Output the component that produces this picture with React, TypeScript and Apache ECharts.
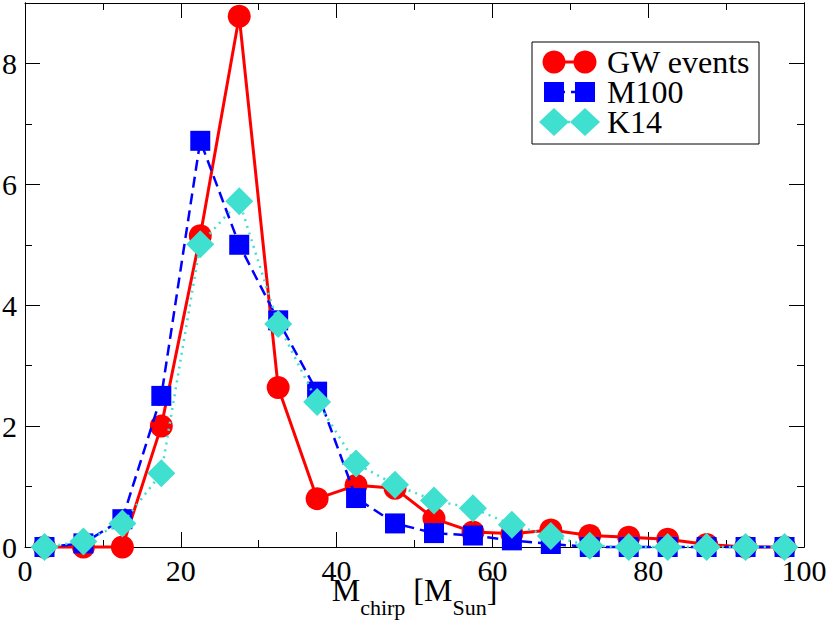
import React, { useEffect, useRef } from "react";
import * as echarts from "echarts";

const FONT = "Liberation Serif, serif";

const binCenters = [2.5, 7.5, 12.5, 17.5, 22.5, 27.5, 32.5, 37.5, 42.5, 47.5, 52.5, 57.5, 62.5, 67.5, 72.5, 77.5, 82.5, 87.5, 92.5, 97.5];
const gwEvents = [0, 0, 0, 2.0, 5.15, 8.78, 2.64, 0.8, 1.02, 0.97, 0.47, 0.25, 0.22, 0.28, 0.19, 0.16, 0.13, 0.04, 0, 0];
const m100 = [0, 0.06, 0.46, 2.5, 6.72, 5.0, 3.75, 2.57, 0.81, 0.39, 0.23, 0.19, 0.11, 0.05, 0, 0, 0, 0, 0, 0];
const k14 = [0, 0.09, 0.39, 1.22, 5.01, 5.72, 3.69, 2.4, 1.38, 1.03, 0.77, 0.64, 0.37, 0.18, 0.02, 0, 0, 0, 0, 0];
const seriesNames = ["GW events", "M100", "K14"];

const X_MIN = 0, X_MAX = 100, X_STEP = 20;
const Y_MIN = 0, Y_MAX = 9, Y_STEP = 2;

const RED = "#ff0000";
const BLUE = "#0000ff";
const TURQ = "#40e0d0";

function pairs(values: number[]) {
  return binCenters.map((x, i) => [x, values[i]]);
}

export default function App() {
  const ref = useRef<HTMLDivElement>(null);

  useEffect(() => {
    document.body.style.margin = "0";
    if (!ref.current) return;
    const chart = echarts.init(ref.current, null, { renderer: "svg" });

    const axisLine = { show: true, onZero: false, lineStyle: { color: "#000", width: 1 } };
    const tickStyle = { color: "#000", width: 1 };

    const xBase = (pos: string, labels: boolean) => ({
      type: "value",
      position: pos,
      min: X_MIN,
      max: X_MAX,
      interval: X_STEP,
      axisLine,
      axisTick: { show: true, inside: true, length: 15, lineStyle: tickStyle },
      minorTick: { show: true, splitNumber: 2, length: 7, lineStyle: tickStyle },
      axisLabel: { show: labels, fontSize: 30, fontFamily: FONT, color: "#000", margin: 8 },
      splitLine: { show: false },
      minorSplitLine: { show: false },
    });

    const yBase = (pos: string, interval: number, len: number, labels: boolean) => ({
      type: "value",
      position: pos,
      min: Y_MIN,
      max: Y_MAX,
      interval,
      axisLine,
      axisTick: { show: true, inside: true, length: len, lineStyle: tickStyle },
      axisLabel: { show: labels, fontSize: 30, fontFamily: FONT, color: "#000", margin: 8, showMaxLabel: false },
      splitLine: { show: false },
    });

    const legendX = 532, legendY = 42, legendW = 227, legendH = 102;
    const rows = [62, 92, 122];
    const m1 = 554, m2 = 585;
    const diamond = (cx: number, cy: number) => ({
      type: "polygon",
      shape: { points: [[cx, cy - 14], [cx + 15, cy], [cx, cy + 14], [cx - 15, cy]] },
      style: { fill: TURQ },
      z: 102,
    });

    const option = {
      animation: false,
      grid: { left: 25, right: 26, top: 3, bottom: 81, outerBoundsMode: "none", containLabel: false },
      xAxis: [
        {
          ...xBase("bottom", true),
          name: "{m|M}{s|chirp}{m| [M}{s|Sun}{m|]}",
          nameLocation: "middle",
          nameGap: 27,
          nameMoveOverlap: false,
          nameTextStyle: {
            rich: {
              m: { fontSize: 32, fontFamily: FONT, color: "#000", lineHeight: 32, verticalAlign: "top" },
              s: { fontSize: 22, fontFamily: FONT, color: "#000", lineHeight: 22, verticalAlign: "top", padding: [22, 0, 0, 0] },
            },
          },
        },
        xBase("top", false),
      ],
      yAxis: [
        yBase("left", Y_STEP, 15, true),
        yBase("left", 1, 7, false),
        yBase("right", Y_STEP, 15, false),
        yBase("right", 1, 7, false),
      ],
      series: [
        {
          type: "line",
          name: seriesNames[0],
          data: pairs(gwEvents),
          xAxisIndex: 0,
          yAxisIndex: 0,
          symbol: "circle",
          symbolSize: 23,
          itemStyle: { color: RED },
          lineStyle: { color: RED, width: 3, type: "solid" },
          z: 2,
          clip: false,
        },
        {
          type: "line",
          name: seriesNames[1],
          data: pairs(m100),
          xAxisIndex: 0,
          yAxisIndex: 0,
          symbol: "rect",
          symbolSize: 20,
          itemStyle: { color: BLUE },
          lineStyle: { color: BLUE, width: 2.5, type: [11, 6] },
          z: 3,
          clip: false,
        },
        {
          type: "line",
          name: seriesNames[2],
          data: pairs(k14),
          xAxisIndex: 0,
          yAxisIndex: 0,
          symbol: "diamond",
          symbolSize: 28,
          itemStyle: { color: TURQ },
          lineStyle: { color: TURQ, width: 2.5, type: [2, 5] },
          z: 4,
          clip: false,
        },
      ],
      graphic: [
        {
          type: "rect",
          shape: { x: legendX, y: legendY, width: legendW, height: legendH },
          style: { fill: "#fff", stroke: "#000", lineWidth: 1 },
          z: 100,
        },
        { type: "line", shape: { x1: m1, y1: rows[0], x2: m2, y2: rows[0] }, style: { stroke: RED, lineWidth: 3 }, z: 101 },
        { type: "circle", shape: { cx: m1, cy: rows[0], r: 11.5 }, style: { fill: RED }, z: 102 },
        { type: "circle", shape: { cx: m2, cy: rows[0], r: 11.5 }, style: { fill: RED }, z: 102 },
        { type: "line", shape: { x1: m1, y1: rows[1], x2: m2, y2: rows[1] }, style: { stroke: BLUE, lineWidth: 2.5, lineDash: [11, 6] }, z: 101 },
        { type: "rect", shape: { x: m1 - 10, y: rows[1] - 10, width: 20, height: 20 }, style: { fill: BLUE }, z: 102 },
        { type: "rect", shape: { x: m2 - 10, y: rows[1] - 10, width: 20, height: 20 }, style: { fill: BLUE }, z: 102 },
        { type: "line", shape: { x1: m1, y1: rows[2], x2: m2, y2: rows[2] }, style: { stroke: TURQ, lineWidth: 2.5, lineDash: [2, 5] }, z: 101 },
        diamond(m1, rows[2]),
        diamond(m2, rows[2]),
        ...seriesNames.map((n, i) => ({
          type: "text",
          x: 607,
          y: rows[i],
          style: { text: n, font: `32px ${FONT}`, fill: "#000", verticalAlign: "middle", align: "left" },
          z: 102,
        })),
      ],
    };

    chart.setOption(option as any);
    return () => chart.dispose();
  }, []);

  return <div ref={ref} style={{ width: 830, height: 628 }} />;
}
